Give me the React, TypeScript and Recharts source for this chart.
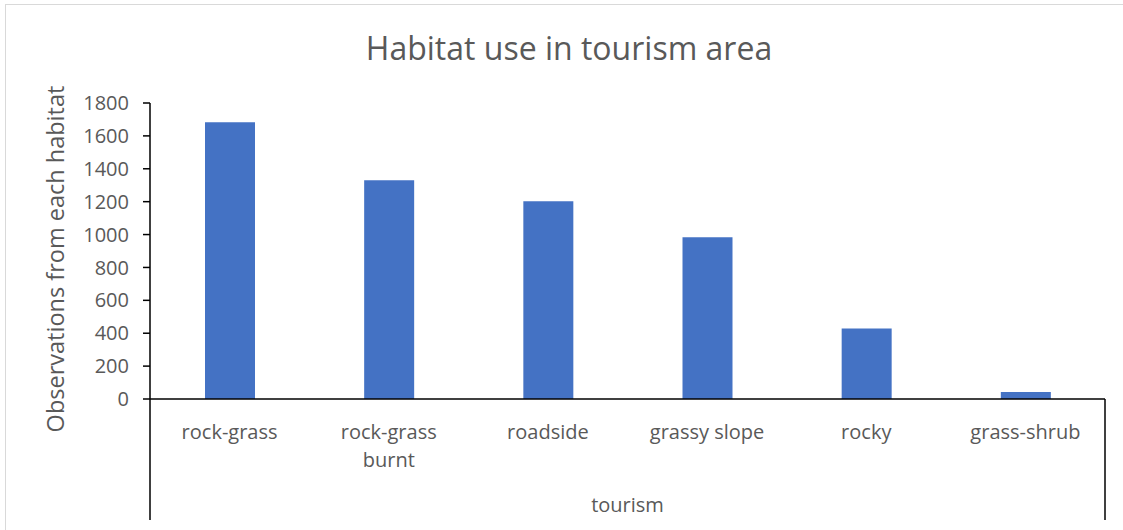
import React from "react";
import { BarChart, Bar, XAxis, YAxis } from "recharts";

const categories = ["rock-grass", "rock-grass burnt", "roadside", "grassy slope", "rocky", "grass-shrub"];
const observations = [1683, 1330, 1203, 983, 428, 42];
const yTicks = [0, 200, 400, 600, 800, 1000, 1200, 1400, 1600, 1800];
const groupLabel = "tourism";

const W = 1123;
const H = 530;
const PLOT_LEFT = 150;
const PLOT_RIGHT = 1105;
const PLOT_TOP = 103;
const PLOT_BOTTOM = 399;
const GROUP_BOTTOM = 520;
const FONT = "'Open Sans', sans-serif";
const TEXT = "#595959";

const data = categories.map((name, i) => ({ name, value: observations[i] }));

function wrap(label: string, max = 13): string[] {
  if (label.length <= max) return [label];
  const words = label.split(" ");
  const lines: string[] = [];
  let cur = "";
  for (const w of words) {
    const next = cur ? cur + " " + w : w;
    if (next.length > max && cur) {
      lines.push(cur);
      cur = w;
    } else cur = next;
  }
  if (cur) lines.push(cur);
  return lines;
}

function CategoryTick(props: any) {
  const { x, payload, index } = props;
  const half = (PLOT_RIGHT - PLOT_LEFT) / categories.length / 2;
  const lines = wrap(String(payload.value));
  return (
    <g>
      {index === 0 && (
        <line x1={x - half} x2={x - half} y1={PLOT_BOTTOM} y2={GROUP_BOTTOM} stroke="#000" strokeWidth={1.5} />
      )}
      {index === categories.length - 1 && (
        <line x1={x + half} x2={x + half} y1={PLOT_BOTTOM} y2={GROUP_BOTTOM} stroke="#000" strokeWidth={1.5} />
      )}
      <text x={x} y={PLOT_BOTTOM + 40} textAnchor="middle" fill={TEXT} fontSize={20} fontFamily={FONT}>
        {lines.map((l, i) => (
          <tspan key={i} x={x} dy={i === 0 ? 0 : 28}>
            {l}
          </tspan>
        ))}
      </text>
    </g>
  );
}

export default function App() {
  return (
    <div style={{ position: "fixed", left: 0, top: 0, width: W, height: H, overflow: "hidden", background: "#fff" }}>
      <div style={{ position: "absolute", left: 5, top: 4, width: W, height: 1, background: "#d9d9d9" }} />
      <div style={{ position: "absolute", left: 5, top: 4, width: 1, height: H, background: "#d9d9d9" }} />
      <div
        style={{
          position: "absolute",
          left: 0,
          width: 1138,
          top: 26,
          textAlign: "center",
          fontFamily: FONT,
          fontSize: 32,
          color: TEXT,
          lineHeight: "44px",
        }}
      >
        Habitat use in tourism area
      </div>
      <div style={{ position: "absolute", left: 0, top: 0 }}>
        <BarChart
          width={W}
          height={H}
          data={data}
          margin={{ top: PLOT_TOP, right: W - PLOT_RIGHT, left: 0, bottom: 0 }}
        >
          <XAxis
            dataKey="name"
            interval={0}
            height={H - PLOT_BOTTOM}
            axisLine={{ stroke: "#000", strokeWidth: 1.5 }}
            tickLine={false}
            tick={<CategoryTick />}
            label={{
              value: groupLabel,
              position: "insideBottom",
              offset: 18,
              fill: TEXT,
              fontSize: 20,
              fontFamily: FONT,
            }}
          />
          <YAxis
            width={PLOT_LEFT}
            domain={[0, 1800]}
            ticks={yTicks}
            interval={0}
            axisLine={{ stroke: "#000", strokeWidth: 1.5 }}
            tickLine={{ stroke: "#000", strokeWidth: 1.5 }}
            tickSize={7}
            tickMargin={14}
            tick={{ fill: TEXT, fontSize: 20, fontFamily: FONT }}
            label={{
              value: "Observations from each habitat",
              angle: -90,
              position: "insideLeft",
              offset: 0,
              dx: 56,
              dy: 8,
              fill: TEXT,
              fontSize: 23.5,
              fontFamily: FONT,
              style: { textAnchor: "middle" },
            }}
          />
          <Bar dataKey="value" fill="#4472C4" barSize={50} isAnimationActive={false} />
        </BarChart>
      </div>
    </div>
  );
}
